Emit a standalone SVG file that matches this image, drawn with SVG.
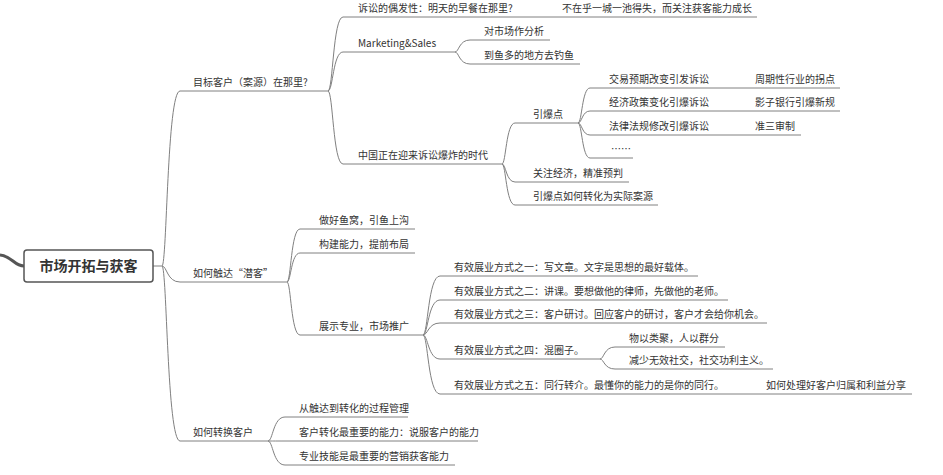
<svg xmlns="http://www.w3.org/2000/svg" width="943" height="475" viewBox="0 0 943 475">
<style>
text{font-family:"Noto Sans CJK SC","Liberation Sans",sans-serif;font-size:10px;fill:#333}
.c path{fill:none;stroke:#808080;stroke-width:1}
.root{font-size:14px;font-weight:bold}
</style>
<rect width="943" height="475" fill="#fff"/>
<g class="c" id="connectors">
<path d="M0,255 C12,256 14,266 24,266" style="stroke:#555;stroke-width:3"/>
<path d="M153,266 H162"/>
<path d="M162,266 C167,266 167,91 180,91 H328"/>
<path d="M162,266 C167,266 167,282 180,282 H287"/>
<path d="M162,266 C167,266 167,441 180,441 H268"/>
<path d="M328,91 C333,91 333,17 343,17 H757"/>
<path d="M328,91 C333,91 333,52 343,52 H455"/>
<path d="M328,91 C333,91 333,164 343,164 H502"/>
<path d="M455,52 C459,52 459,40 470,40 H550"/>
<path d="M455,52 C459,52 459,64 470,64 H580"/>
<path d="M502,164 C506,164 506,123 515,123 H578"/>
<path d="M502,164 C506,164 506,182 515,182 H629"/>
<path d="M502,164 C506,164 506,205 515,205 H658"/>
<path d="M578,123 C582,123 582,88 590,88 H840"/>
<path d="M578,123 C582,123 582,111 590,111 H840"/>
<path d="M578,123 C582,123 582,135 590,135 H801"/>
<path d="M578,123 C582,123 582,158 590,158 H633"/>
<path d="M287,282 C291,282 291,229 300,229 H415"/>
<path d="M287,282 C291,282 291,253 300,253 H415"/>
<path d="M287,282 C291,282 291,335 300,335 H423"/>
<path d="M423,335 C428,335 428,276 440,276 H698"/>
<path d="M423,335 C428,335 428,300 440,300 H728"/>
<path d="M423,335 C428,335 428,323 440,323 H767"/>
<path d="M423,335 C428,335 428,359 440,359 H600"/>
<path d="M423,335 C428,335 428,394 440,394 H912"/>
<path d="M600,359 C604,359 604,347 615,347 H725"/>
<path d="M600,359 C604,359 604,369 615,369 H773"/>
<path d="M268,441 C273,441 273,417 285,417 H408"/>
<path d="M268,441 C273,441 273,441 285,441 H478"/>
<path d="M268,441 C273,441 273,465 285,465 H455"/>
</g>
<g id="root"><rect x="24" y="250" width="129" height="32" rx="3" fill="#fff" stroke="#555" stroke-width="1.5"/><text class="root" x="88.5" y="271" text-anchor="middle">市场开拓与获客</text></g>
<g id="n1"><text x="193" y="86">目标客户（案源）在那里?</text></g>
<g id="n2"><text x="193" y="277">如何触达“潜客”</text></g>
<g id="n3"><text x="193" y="436">如何转换客户</text></g>
<g id="n11"><text x="358" y="12">诉讼的偶发性：明天的早餐在那里?</text></g>
<g id="n111"><text x="562" y="12">不在乎一城一池得失，而关注获客能力成长</text></g>
<g id="n12"><text x="358" y="47">Marketing&amp;Sales</text></g>
<g id="n121"><text x="484" y="35">对市场作分析</text></g>
<g id="n122"><text x="484" y="59">到鱼多的地方去钓鱼</text></g>
<g id="n13"><text x="358" y="159">中国正在迎来诉讼爆炸的时代</text></g>
<g id="n131"><text x="533" y="118">引爆点</text></g>
<g id="n1311"><text x="609" y="83">交易预期改变引发诉讼</text><text x="755" y="83">周期性行业的拐点</text></g>
<g id="n1312"><text x="609" y="106">经济政策变化引爆诉讼</text><text x="755" y="106">影子银行引爆新规</text></g>
<g id="n1313"><text x="609" y="130">法律法规修改引爆诉讼</text><text x="755" y="130">准三审制</text></g>
<g id="n1314"><text x="611" y="153">……</text></g>
<g id="n132"><text x="533" y="177">关注经济，精准预判</text></g>
<g id="n133"><text x="533" y="200">引爆点如何转化为实际案源</text></g>
<g id="n21"><text x="319" y="224">做好鱼窝，引鱼上沟</text></g>
<g id="n22"><text x="319" y="248">构建能力，提前布局</text></g>
<g id="n23"><text x="319" y="330">展示专业，市场推广</text></g>
<g id="n231"><text x="454" y="271">有效展业方式之一：写文章。文字是思想的最好载体。</text></g>
<g id="n232"><text x="454" y="295">有效展业方式之二：讲课。要想做他的律师，先做他的老师。</text></g>
<g id="n233"><text x="454" y="318">有效展业方式之三：客户研讨。回应客户的研讨，客户才会给你机会。</text></g>
<g id="n234"><text x="454" y="354">有效展业方式之四：混圈子。</text><text x="629" y="342">物以类聚，人以群分</text><text x="629" y="364">减少无效社交，社交功利主义。</text></g>
<g id="n235"><text x="454" y="389">有效展业方式之五：同行转介。最懂你的能力的是你的同行。</text><text x="766" y="389">如何处理好客户归属和利益分享</text></g>
<g id="n31"><text x="299" y="412">从触达到转化的过程管理</text></g>
<g id="n32"><text x="299" y="436">客户转化最重要的能力：说服客户的能力</text></g>
<g id="n33"><text x="299" y="460">专业技能是最重要的营销获客能力</text></g>
</svg>
